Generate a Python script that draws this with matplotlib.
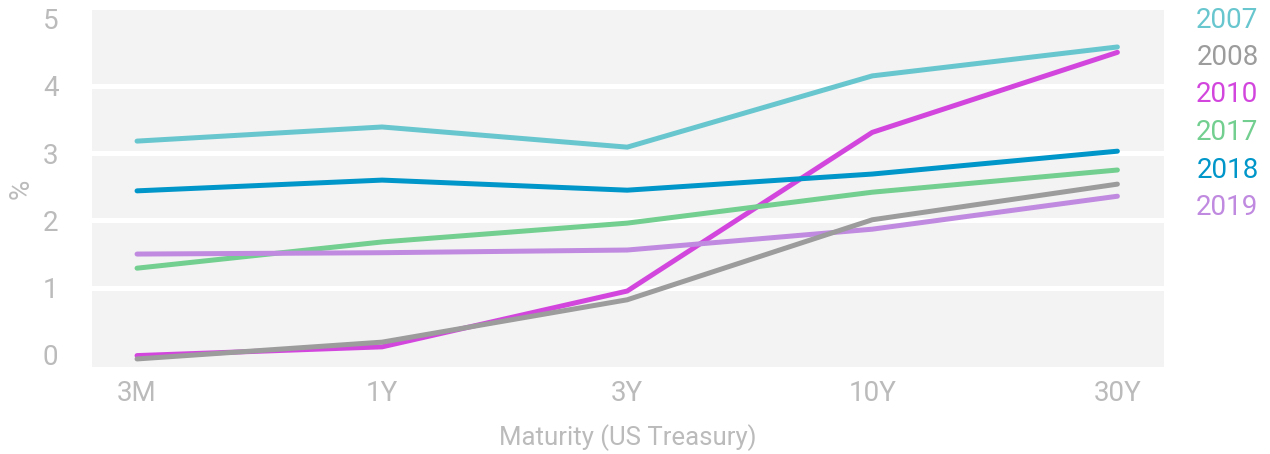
import matplotlib.pyplot as plt

# Treasury yield curves by year
maturities = ['3M', '1Y', '3Y', '10Y', '30Y']
years = ['2007', '2008', '2010', '2017', '2018', '2019']
y2007 = [3.18, 3.39, 3.09, 4.15, 4.58]
y2008 = [-0.06, 0.19, 0.82, 2.01, 2.54]
y2010 = [-0.01, 0.12, 0.95, 3.31, 4.50]
y2017 = [1.29, 1.68, 1.96, 2.42, 2.75]
y2018 = [2.44, 2.60, 2.45, 2.69, 3.03]
y2019 = [1.50, 1.52, 1.56, 1.87, 2.36]
colors = ['#68c6cf', '#9c9c9c', '#d346de', '#72cf8f', '#0096c9', '#c08ae0']

series = [y2007, y2008, y2010, y2017, y2018, y2019]
text_color = '#bbbbbb'
plt.rcParams['font.family'] = ['Roboto', 'DejaVu Sans']

fig = plt.figure(figsize=(12.7, 4.54), dpi=100)
ax = fig.add_axes([0.0724, 0.1916, 0.8441, 0.7864])
ax.set_facecolor('#f3f3f3')

x = range(len(maturities))
for yr, vals, c in zip(years, series, colors):
    # 2008 sits on top of the other curves
    z = 4 if yr == '2008' else 3
    ax.plot(x, vals, color=c, lw=3.6, solid_capstyle='round',
            solid_joinstyle='miter', zorder=z)

ax.set_xlim(-0.184, 4.19)
ax.set_ylim(-0.18, 5.13)
yticks = list(range(0, 6))
ax.set_yticks(yticks)
ax.set_xticks(list(x))
ax.set_xticklabels(maturities)
# white separators between the bands (inner ticks only)
for t in yticks[1:-1]:
    ax.axhline(t, color='white', lw=3.6, zorder=1)
for s in ax.spines.values():
    s.set_visible(False)
ax.tick_params(length=0, labelcolor=text_color, labelsize=20)
ax.tick_params(axis='y', pad=24)
ax.tick_params(axis='x', pad=9)

ax.set_ylabel('%', color=text_color, fontsize=20, labelpad=6)
ax.set_xlabel('Maturity (US Treasury)', color=text_color, fontsize=18.5,
              labelpad=13)

# year labels on the right, coloured like their lines
for i, (yr, c) in enumerate(zip(years, colors)):
    fig.text(0.991, 1 - (20 + 37.5 * i) / 454, yr, color=c, fontsize=20,
             ha='right', va='center')

fig.savefig('out.png', dpi=100)
